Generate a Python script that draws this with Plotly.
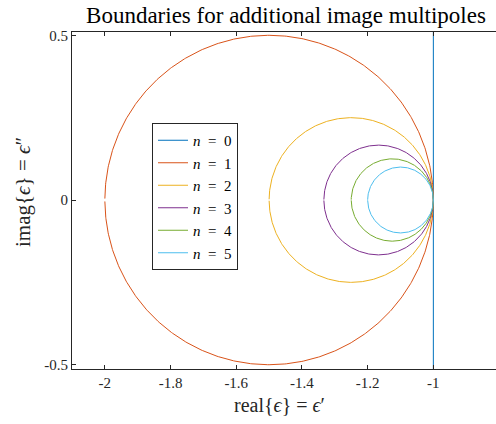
import numpy as np
import plotly.graph_objects as go

# Data
orders = [0, 1, 2, 3, 4, 5]
left_edges = [None, -2.0, -1.5, -1.3333, -1.25, -1.2]   # leftmost real value of each boundary circle
right_edge = -1.0                                       # all circles touch real = -1
vertical_x = -1.0                                       # n = 0 boundary
colors = ["#0072BD", "#D95319", "#EDB120", "#7E2F8E", "#77AC30", "#4DBEEE"]
xticks = [-2, -1.8, -1.6, -1.4, -1.2, -1]
xticktext = ["-2", "-1.8", "-1.6", "-1.4", "-1.2", "-1"]
yticks = [-0.5, 0, 0.5]
yticktext = ["-0.5", "0", "0.5"]

SERIF = "Liberation Serif"
AX = "#262626"
W, H = 496, 424

fig = go.Figure()
theta = np.linspace(0, 2 * np.pi, 721)
for n, le, c in zip(orders, left_edges, colors):
    name = f"<i>n</i>\u2002=\u2002{n}"
    if le is None:
        fig.add_trace(go.Scatter(x=[vertical_x, vertical_x], y=[-0.6, 0.6], mode="lines",
                                 line=dict(color=c, width=1), name=name))
        continue
    cx = (le + right_edge) / 2
    r = (right_edge - le) / 2
    xs = list(cx + r * np.cos(theta))
    ys = list(r * np.sin(theta))
    # small gap at leftmost point, as in the reference
    k = 360
    xs[k] = None
    ys[k] = None
    fig.add_trace(go.Scatter(x=xs, y=ys, mode="lines", line=dict(color=c, width=1), name=name))

fig.update_layout(
    width=W, height=H,
    margin=dict(l=72, r=0, t=32, b=55),
    paper_bgcolor="white", plot_bgcolor="white",
    font=dict(family=SERIF, color=AX, size=15),
    title=dict(text="Boundaries for additional image multipoles", x=286 / W,
               xanchor="center", y=1 - 15 / H, yanchor="middle",
               font=dict(family=SERIF, size=23, color="black")),
    showlegend=True,
    legend=dict(x=(152 - 72) / 424, y=1 - (123 - 32) / 337, xanchor="left", yanchor="top",
                bgcolor="white", bordercolor=AX, borderwidth=1,
                font=dict(family=SERIF, size=15, color="black"), tracegroupgap=0),
    annotations=[
        dict(text="real{<i>ϵ</i>} = <i>ϵ</i>′", xref="paper", yref="paper",
             x=(279 - 72) / 424, y=-(405 - 369) / 337, xanchor="center", yanchor="middle",
             showarrow=False, font=dict(family=SERIF, size=20, color=AX)),
        dict(text="imag{<i>ϵ</i>} = <i>ϵ</i>″", xref="paper", yref="paper",
             x=-(72 - 23) / 424, y=1 - (192 - 32) / 337, xanchor="center", yanchor="middle",
             textangle=-90, showarrow=False, font=dict(family=SERIF, size=21, color=AX)),
    ],
)
fig.update_xaxes(range=[-2.1, -0.8093], tickvals=xticks, ticktext=xticktext,
                 ticks="inside", ticklen=4, tickcolor=AX, showline=True, linecolor=AX, linewidth=1,
                 mirror="ticks", showgrid=False, zeroline=False,
                 tickfont=dict(family=SERIF, size=15, color=AX))
fig.update_yaxes(range=[-0.513, 0.51], tickvals=yticks, ticktext=yticktext,
                 ticks="inside", ticklen=4, tickcolor=AX, showline=True, linecolor=AX, linewidth=1,
                 showgrid=False, zeroline=False,
                 tickfont=dict(family=SERIF, size=15, color=AX))

fig.write_html("out.html")
